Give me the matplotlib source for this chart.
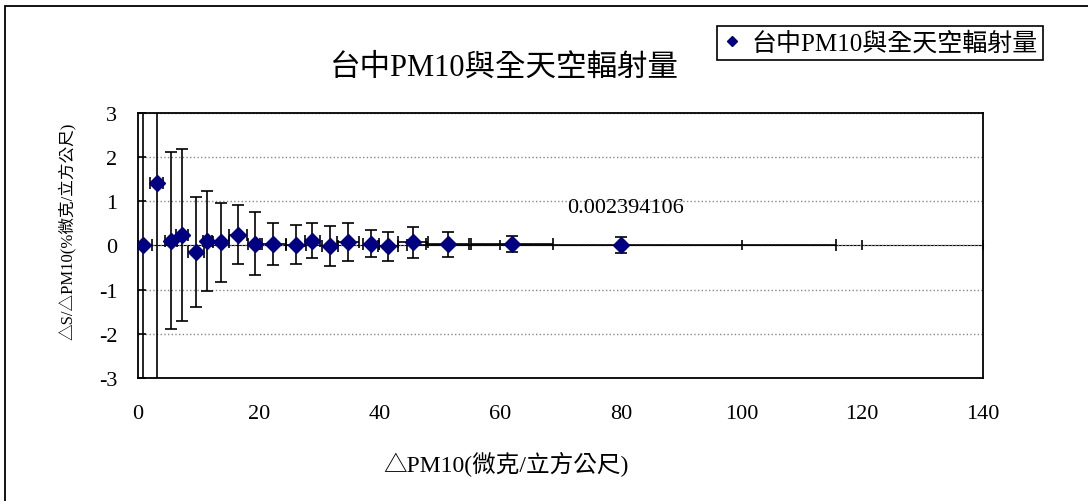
import matplotlib.pyplot as plt
from matplotlib.patches import Rectangle

plt.rcParams['font.family'] = ['Liberation Serif', 'Noto Sans CJK TC']

# bin centres of ΔPM10, mean ΔS/ΔPM10 and their errors
pm10 = [0.88, 3.1, 5.4, 7.3, 9.6, 11.5, 13.75, 16.6, 19.4, 22.4,
        26.2, 28.9, 31.8, 34.8, 38.6, 41.4, 45.6, 51.3, 62.0, 80.1]
ratio = [0.0, 1.42, 0.11, 0.24, -0.15, 0.10, 0.07, 0.24, 0.04, 0.03,
         0.02, 0.11, -0.01, 0.07, 0.04, -0.02, 0.07, 0.03, 0.04, 0.01]
pm10_err = [1.4, 1.05, 1.0, 0.95, 1.3, 0.7, 1.4, 1.45, 1.2, 2.1,
            1.6, 1.2, 1.3, 1.8, 1.4, 1.6, 2.5, 3.6, 6.8, 35.6]
ratio_err = [6.0, 6.0, 2.01, 1.95, 1.25, 1.14, 0.89, 0.67, 0.71, 0.47,
             0.45, 0.39, 0.45, 0.43, 0.30, 0.32, 0.35, 0.28, 0.18, 0.18]

series_name = '台中PM10與全天空輻射量'
slope_text = '0.002394106'

fig = plt.figure(figsize=(10.88, 5.02), dpi=100)
ax = fig.add_axes([0.1268, 0.245, 0.7767, 0.528])

eb = ax.errorbar(pm10, ratio, xerr=pm10_err, yerr=ratio_err, fmt='D',
                 color='#000080', markersize=8, ecolor='black',
                 elinewidth=1.2, capsize=4.5, capthick=1.2, zorder=3)

ax.set_xlim(0, 140)
ax.set_ylim(-3, 3)
ax.set_xticks(range(0, 141, 20))
ax.set_yticks(range(-3, 4))
ax.set_yticklabels([str(v) if v >= 0 else '-' + str(-v) for v in range(-3, 4)])
ax.tick_params(axis='x', length=0, pad=19, labelsize=16)
ax.tick_params(axis='y', direction='in', length=6, width=1.2, pad=15, labelsize=16)
ax.yaxis.grid(True, linestyle=':', color='#888888', linewidth=1)
ax.set_axisbelow(True)
for sp in ax.spines.values():
    sp.set_linewidth(1.3)

# category axis crossing at zero
zero_axis = ax.secondary_xaxis(0.5)
zero_axis.set_xticks(range(0, 141, 20))
zero_axis.set_xticklabels([])
zero_axis.tick_params(direction='inout', length=7, width=1.2,
                      labelbottom=False, labeltop=False)
zero_axis.spines['bottom'].set_linewidth(1.3)

ax.text(80.8, 0.86, slope_text, ha='center', va='center', fontsize=16)

ax.set_xlabel('△PM10(微克/立方公尺)', fontsize=17)
ax.xaxis.set_label_coords(0.435, -0.275)
ax.set_ylabel('△S/△PM10(%微克/立方公尺)', fontsize=12)
ax.yaxis.set_label_coords(-0.074, 0.558)
fig.text(0.464, 0.864, series_name, ha='center', va='center', fontsize=22)

fig.legend([eb[0]], [series_name], loc='upper right',
           bbox_to_anchor=(0.9586, 0.946), borderaxespad=0, fontsize=18,
           fancybox=False, edgecolor='black', framealpha=1,
           markerscale=0.6, handlelength=0.8, handletextpad=0.4,
           borderpad=0.2).get_frame().set_linewidth(1.2)

fig.patches.append(Rectangle((5 / 1088, -0.2), 1.2, 1.2 - 7 / 502,
                             transform=fig.transFigure, fill=False,
                             edgecolor='black', linewidth=1.3))

fig.savefig('out.png', dpi=100)
